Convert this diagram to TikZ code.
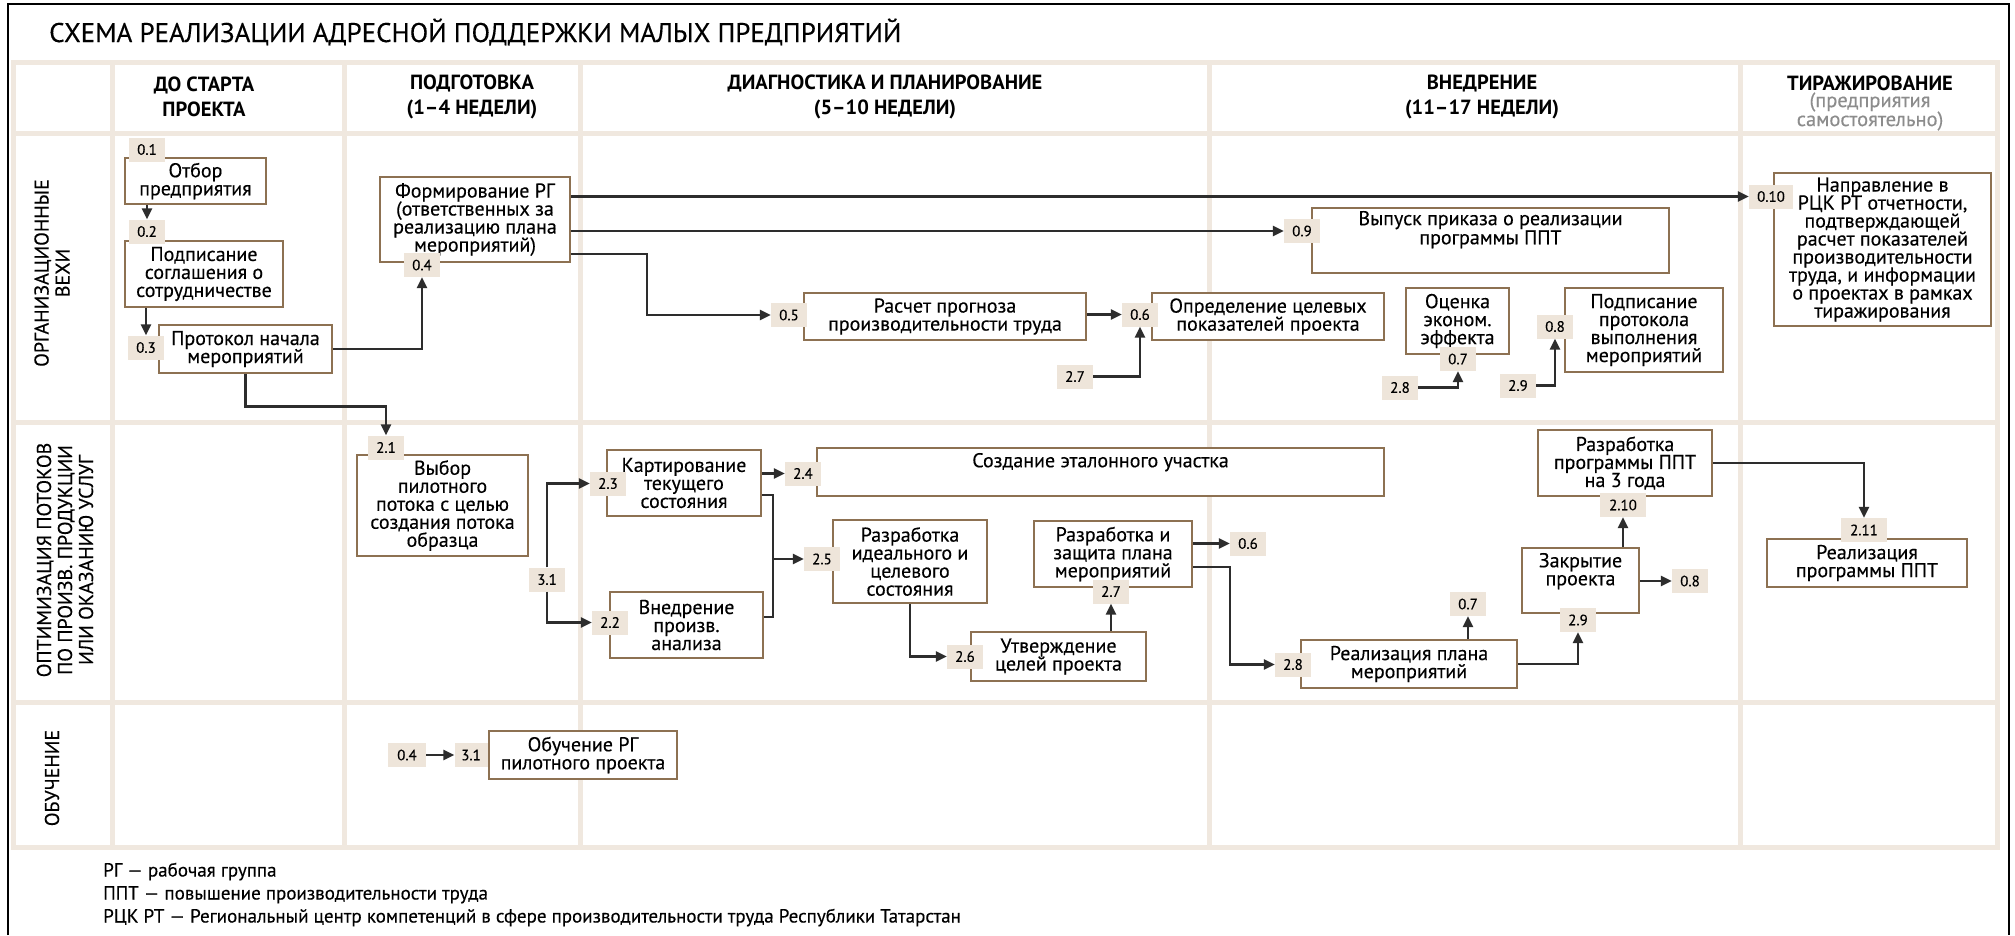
\documentclass[tikz,border=0pt]{standalone}
\usepackage{fontspec}
\setmainfont{PT Sans}
\newfontfamily\bodyf{PT Sans}[FakeBold=0.3]
\usetikzlibrary{arrows.meta}
\definecolor{gridc}{HTML}{F0E8DF}
\definecolor{tagc}{HTML}{EEE5DA}
\definecolor{brd}{HTML}{8D7152}
\definecolor{arr}{HTML}{2D2D2D}
\definecolor{subg}{HTML}{8C8C8C}
\setlength{\lineskiplimit}{-20pt}
\begin{document}
\begin{tikzpicture}[x=1pt,y=-1pt,
  gridline/.style={draw=gridc,line width=5pt},
  pbox/.style={draw=brd,line width=2.5pt,fill=white,align=center,inner sep=3pt,
    font=\bodyf\fontsize{20}{18}\selectfont},
  pboxtop/.style={pbox,inner sep=0pt},
  numtag/.style={fill=tagc,minimum width=36pt,minimum height=24pt,inner sep=0pt,
    font=\bodyf\fontsize{15}{15}\selectfont},
  arrowline/.style={draw=arr,line width=2.5pt,-{Triangle[length=11pt,width=10pt]}},
  plainline/.style={draw=arr,line width=2.5pt},
  hdr/.style={align=center,inner sep=0pt,font=\bfseries\fontsize{20.5}{25}\selectfont},
  rowlab/.style={align=center,rotate=90,inner sep=0pt,font=\bodyf\fontsize{20}{21}\selectfont},
  legendtxt/.style={anchor=base west,inner sep=0pt,font=\bodyf\fontsize{19}{19}\selectfont}
]
\useasboundingbox (0,0) rectangle (2015,935);
\fill[white] (0,0) rectangle (2015,935);
% grid
\foreach \yy in {62.5,133,422,702,847} \draw[gridline] (11,\yy) -- (2000,\yy);
\foreach \xx in {13,112,344.5,580,1209,1740,1997} \draw[gridline] (\xx,60) -- (\xx,850);
% frame
\draw[black,line width=2.5pt] (8,935) -- (8,4) -- (2009,4) -- (2009,935);
% title
\node[anchor=base west,inner sep=0pt,font=\bodyf\fontsize{27}{27}\selectfont] (title) at (49,42)
  {СХЕМА РЕАЛИЗАЦИИ АДРЕСНОЙ ПОДДЕРЖКИ МАЛЫХ ПРЕДПРИЯТИЙ};
% headers
\node[hdr] (h1) at (204,97) {ДО СТАРТА\\ПРОЕКТА};
\node[hdr] (h2) at (472,97) {ПОДГОТОВКА\\(1–4 НЕДЕЛИ)};
\node[hdr] (h3) at (885,97) {ДИАГНОСТИКА И ПЛАНИРОВАНИЕ\\(5–10 НЕДЕЛИ)};
\node[hdr] (h4) at (1482,97) {ВНЕДРЕНИЕ\\(11–17 НЕДЕЛИ)};
\node[hdr,anchor=base] (h5) at (1870,90) {ТИРАЖИРОВАНИЕ};
\node[align=center,inner sep=0pt,text=subg,font=\bodyf\fontsize{20.5}{19}\selectfont] (h5s) at (1870,111.5) {(предприятия\\самостоятельно)};
% row labels
\node[rowlab] (lab1) at (52,273) {ОРГАНИЗАЦИОННЫЕ\\ВЕХИ};
\node[rowlab] (lab2) at (65,560) {ОПТИМИЗАЦИЯ ПОТОКОВ\\ПО ПРОИЗВ. ПРОДУКЦИИ\\ИЛИ ОКАЗАНИЮ УСЛУГ};
\node[rowlab] (lab3) at (52,778) {ОБУЧЕНИЕ};
% boxes: organisational milestones
\node[pbox,minimum width=141pt,minimum height=46pt] (b01) at (195.5,181) {Отбор\\предприятия};
\node[pbox,minimum width=158pt,minimum height=66pt] (b02) at (204,274) {Подписание\\соглашения о\\сотрудничестве};
\node[pbox,minimum width=173pt,minimum height=48pt] (b03) at (245.5,349) {Протокол начала\\мероприятий};
\node[pbox,minimum width=190pt,minimum height=85pt] (b04) at (475,219.5) {Формирование РГ\\(ответственных за\\реализацию плана\\мероприятий)};
\node[pboxtop] (b09) at (1490.5,240.5) {\parbox[c][65pt][t]{357pt}{\centering\vspace*{3pt}Выпуск приказа о реализации\\программы ППТ\par}};
\node[pbox,minimum width=282pt,minimum height=47pt] (b05) at (945,316.5) {Расчет прогноза\\производительности труда};
\node[pbox,minimum width=232pt,minimum height=47pt] (b06) at (1268,316.5) {Определение целевых\\показателей проекта};
\node[pbox,minimum width=103pt,minimum height=66pt] (b07) at (1457.5,321) {Оценка\\эконом.\\эффекта};
\node[pbox,minimum width=158pt,minimum height=84pt] (b08) at (1644,330) {Подписание\\протокола\\выполнения\\мероприятий};
\node[pbox,minimum width=217pt,minimum height=153pt] (b010) at (1882.5,249.5) {Направление в\\РЦК РТ отчетности,\\подтверждающей\\расчет показателей\\производительности\\труда, и информации\\о проектах в рамках\\тиражирования};
% boxes: flow optimisation
\node[pbox,minimum width=171pt,minimum height=101pt] (b21) at (442.5,505.5) {Выбор\\пилотного\\потока с целью\\создания потока\\образца};
\node[pbox,minimum width=154pt,minimum height=66pt] (b23) at (684,483) {Картирование\\текущего\\состояния};
\node[pbox,minimum width=153pt,minimum height=66pt] (b22) at (686.5,625) {Внедрение\\произв.\\анализа};
\node[pboxtop] (b24) at (1100.5,472) {\parbox[c][48pt][t]{567pt}{\centering\vspace*{5pt}Создание эталонного участка\par}};
\node[pbox,minimum width=154pt,minimum height=83pt] (b25) at (910,561.5) {Разработка\\идеального и\\целевого\\состояния};
\node[pbox,minimum width=175pt,minimum height=49pt] (b26) at (1058.5,656.5) {Утверждение\\целей проекта};
\node[pbox,minimum width=158pt,minimum height=66pt] (b27) at (1113,554) {Разработка и\\защита плана\\мероприятий};
\node[pbox,minimum width=216pt,minimum height=48pt] (b28) at (1409,664) {Реализация плана\\мероприятий};
\node[pboxtop] (b29) at (1580.5,580.5) {\parbox[c][65pt][t]{117pt}{\centering\vspace*{5pt}Закрытие\\проекта\par}};
\node[pbox,minimum width=174pt,minimum height=66pt] (b210) at (1625,463) {Разработка\\программы ППТ\\на 3 года};
\node[pbox,minimum width=200pt,minimum height=48pt] (b211) at (1867,563) {Реализация\\программы ППТ};
% boxes: training
\node[pbox,minimum width=188pt,minimum height=48pt] (b31) at (583,755) {Обучение РГ\\пилотного проекта};
% number tags
\node[numtag] (t01) at (147,149.5) {0.1};
\node[numtag] (t02) at (147,231.5) {0.2};
\node[numtag] (t03) at (146,347.5) {0.3};
\node[numtag] (t04) at (422,265) {0.4};
\node[numtag] (t05) at (789,315) {0.5};
\node[numtag] (t06) at (1140,314.5) {0.6};
\node[numtag] (r27a) at (1075,376.5) {2.7};
\node[numtag] (t07) at (1458,359) {0.7};
\node[numtag] (r28a) at (1400,387.5) {2.8};
\node[numtag] (t08) at (1555,326.5) {0.8};
\node[numtag] (r29a) at (1518,385.5) {2.9};
\node[numtag] (t09) at (1302,231) {0.9};
\node[numtag,minimum width=44pt] (t010) at (1771,196.5) {0.10};
\node[numtag] (t21) at (386,447.5) {2.1};
\node[numtag] (t23) at (608,483.5) {2.3};
\node[numtag] (t22) at (610,622.5) {2.2};
\node[numtag] (r31) at (547,579.5) {3.1};
\node[numtag] (t24) at (803,473.5) {2.4};
\node[numtag] (t25) at (822,559) {2.5};
\node[numtag] (t26) at (965,656.5) {2.6};
\node[numtag] (t27) at (1111,591.5) {2.7};
\node[numtag] (r06b) at (1248,543.5) {0.6};
\node[numtag] (t28) at (1293,664.5) {2.8};
\node[numtag] (r07b) at (1468,604) {0.7};
\node[numtag] (t29) at (1578,620) {2.9};
\node[numtag] (r08b) at (1690,581) {0.8};
\node[numtag,minimum width=46pt] (t210) at (1623,505) {2.10};
\node[numtag,minimum width=46pt] (t211) at (1864,530) {2.11};
\node[numtag,minimum width=38pt] (r04c) at (407,755) {0.4};
\node[numtag,minimum width=33pt] (t31) at (471,755) {3.1};
% connectors
\draw[arrowline] (t02.north |- b01.south) -- (t02.north);
\draw[arrowline] (t03.north |- b02.south) -- (t03.north);
\draw[arrowline] (b03.east) -| (t04.south);
\draw[arrowline] (b03.south) -- ++(0,32) -| (t21.north);
\draw[arrowline] (t010.west -| b04.east) -- (t010.west);
\draw[arrowline] (t09.west -| b04.east) -- (t09.west);
\coordinate (j1) at (647,254);
\draw[arrowline] (j1 -| b04.east) -- (j1) |- (t05.west);
\draw[arrowline] (t06.west -| b05.east) -- (t06.west);
\draw[arrowline] (r27a.east) -| (t06.south);
\draw[arrowline] (r28a.east) -| (t07.south);
\draw[arrowline] (r29a.east) -| (t08.south);
\draw[arrowline] (r31.north) |- (t23.west);
\draw[arrowline] (r31.south) |- (t22.west);
\draw[arrowline] (t24.west -| b23.east) -- (t24.west);
\coordinate (m1) at (773,495);
\coordinate (m2) at (773,617);
\draw[plainline] (m1 -| b23.east) -- (m1) -- (m2) -- (m2 -| b22.east);
\draw[arrowline] (m1 |- t25.west) -- (t25.west);
\draw[arrowline] (b25.south) |- (t26.west);
\draw[arrowline] (t27.south |- b26.north) -- (t27.south);
\draw[arrowline] (r06b.west -| b27.east) -- (r06b.west);
\coordinate (k1) at (1230,567);
\draw[arrowline] (k1 -| b27.east) -- (k1) |- (t28.west);
\draw[arrowline] (r07b.south |- b28.north) -- (r07b.south);
\draw[arrowline] (b28.east) -| (t29.south);
\draw[arrowline] (t210.south |- b29.north) -- (t210.south);
\draw[arrowline] (r08b.west -| b29.east) -- (r08b.west);
\draw[arrowline] (b210.east) -| (t211.north);
\draw[arrowline] (r04c.east) -- (t31.west);
% legend
\node[legendtxt] (leg1) at (103,876.5) {РГ — рабочая группа};
\node[legendtxt] (leg2) at (103,899.5) {ППТ — повышение производительности труда};
\node[legendtxt] (leg3) at (103,922.5) {РЦК РТ — Региональный центр компетенций в сфере производительности труда Республики Татарстан};
\end{tikzpicture}
\end{document}
